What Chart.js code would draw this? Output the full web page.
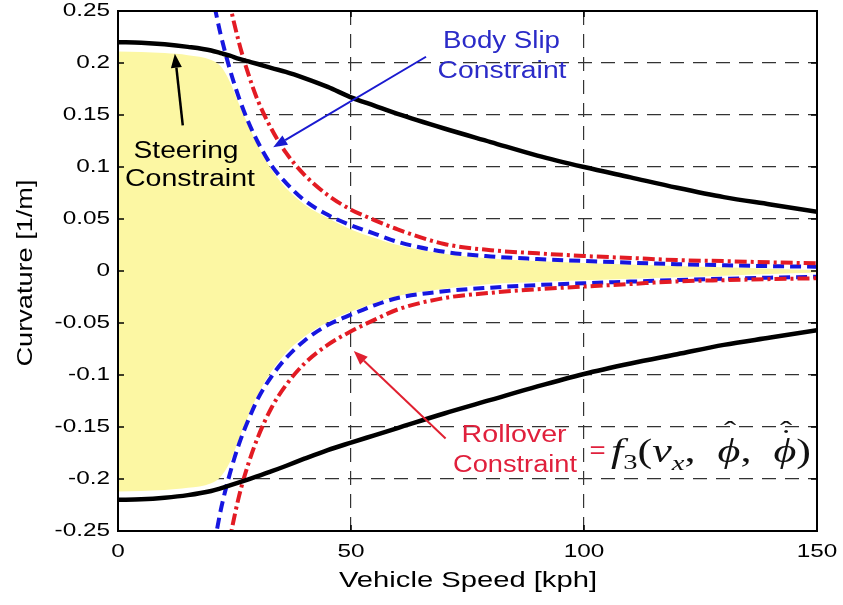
<!DOCTYPE html>
<html>
<head>
<meta charset="utf-8">
<script src="https://cdn.jsdelivr.net/npm/chart.js@4/dist/chart.umd.min.js"></script>
<style>
  html, body { margin: 0; padding: 0; background: #fff; }
  #wrap { width: 843px; height: 605px; }
</style>
</head>
<body>
<div id="wrap"><canvas id="curvChart" width="843" height="605"></canvas></div>
<script>
// vehicle speed [kph]
const speeds = [0, 5, 10, 15, 20, 22, 24, 26, 28, 30, 33, 36, 40, 45, 50, 55, 60, 70, 80, 90, 100, 110, 120, 130, 140, 150];

// steering constraint (black solid)
const steerUpper = [0.220, 0.2195, 0.218, 0.2155, 0.212, 0.2095, 0.207, 0.204, 0.2015, 0.199, 0.195, 0.1915, 0.1855, 0.177, 0.167, 0.159, 0.151, 0.137, 0.124, 0.111, 0.100, 0.090, 0.080, 0.071, 0.064, 0.057];
const steerLower = [-0.220, -0.2195, -0.218, -0.2155, -0.2115, -0.209, -0.2062, -0.2033, -0.2003, -0.1972, -0.1925, -0.1875, -0.1805, -0.1722, -0.165, -0.158, -0.151, -0.137, -0.124, -0.111, -0.099, -0.089, -0.080, -0.071, -0.064, -0.057];

// body slip constraint (blue dashed)
const slipUpper = [null, null, null, null, 0.27, 0.228, 0.194, 0.166, 0.143, 0.124, 0.101, 0.085, 0.068, 0.054, 0.044, 0.036, 0.028, 0.0185, 0.014, 0.0115, 0.0096, 0.008, 0.0066, 0.0055, 0.0047, 0.0041];
const slipLower = [null, null, null, null, -0.28, -0.231, -0.195, -0.166, -0.143, -0.123, -0.101, -0.084, -0.067, -0.052, -0.042, -0.033, -0.026, -0.0195, -0.016, -0.0135, -0.0118, -0.0102, -0.0087, -0.0075, -0.0064, -0.0055];

// rollover constraint (red dash-dot)
const rollUpper = [null, null, null, null, null, 0.306, 0.257, 0.219, 0.189, 0.164, 0.136, 0.114, 0.0925, 0.073, 0.059, 0.049, 0.040, 0.026, 0.020, 0.017, 0.0144, 0.0125, 0.0105, 0.0095, 0.0083, 0.0074];
const rollLower = [null, null, null, null, null, -0.31, -0.258, -0.216, -0.185, -0.160, -0.131, -0.110, -0.089, -0.071, -0.058, -0.047, -0.037, -0.026, -0.021, -0.0175, -0.015, -0.0125, -0.010, -0.0088, -0.0078, -0.007];

// feasible region (yellow)
const safeUpper = [0.211, 0.2105, 0.2095, 0.2075, 0.203, 0.197, 0.182, 0.160, 0.140, 0.121, 0.097, 0.080, 0.064, 0.051, 0.040, 0.032, 0.025, 0.0165, 0.012, 0.0095, 0.0078, 0.0062, 0.0048, 0.0035, 0.0022, 0.001];
const safeLower = [-0.212, -0.2115, -0.2105, -0.2085, -0.204, -0.198, -0.184, -0.161, -0.139, -0.119, -0.096, -0.079, -0.063, -0.049, -0.039, -0.031, -0.024, -0.017, -0.0125, -0.0105, -0.009, -0.0075, -0.006, -0.0045, -0.003, -0.0015];

// ticks
const xTicks = [0, 50, 100, 150];
const xTickLabels = ['0', '50', '100', '150'];
const yTicks = [0.25, 0.2, 0.15, 0.1, 0.05, 0, -0.05, -0.1, -0.15, -0.2, -0.25];
const yTickLabels = ['0.25', '0.2', '0.15', '0.1', '0.05', '0', '-0.05', '-0.1', '-0.15', '-0.2', '-0.25'];

const BLUE = '#1616e0';
const RED = '#e31b23';
const SANS = '"Liberation Sans", Arial, sans-serif';
const SERIF = '"Liberation Serif", "DejaVu Serif", serif';

// labels placed in data coordinates
const notes = [
    { text: 'Steering', x: 14.6, y: 0.1144, color: '#000', w: 105 },
    { text: 'Constraint', x: 15.45, y: 0.0875, color: '#000', w: 130 },
    { text: 'Body Slip', x: 82.3, y: 0.2205, color: '#2b2bc8', w: 117 },
    { text: 'Constraint', x: 82.4, y: 0.1913, color: '#2b2bc8', w: 129 },
    { text: 'Rollover', x: 85.0, y: -0.1587, color: '#e0203c', w: 105 },
    { text: 'Constraint', x: 85.2, y: -0.1875, color: '#e0203c', w: 124 }
];
const arrows = [
    { from: [13.9, 0.140], to: [12.2, 0.209], color: '#000', width: 2.5 },
    { from: [66.1, 0.206], to: [33.3, 0.119], color: '#1a1ad0', width: 2 },
    { from: [70.3, -0.161], to: [50.6, -0.077], color: '#e02030', width: 2 }
];

function pts(arr) {
    return speeds.map((v, i) => ({ x: v, y: arr[i] }));
}

function stretchText(ctx, text, x, y, font, color, opts) {
    opts = opts || {};
    ctx.save();
    ctx.font = font;
    ctx.fillStyle = color;
    const w = ctx.measureText(text).width;
    const sx = opts.w ? opts.w / w : (opts.sx || 1);
    ctx.translate(x, y);
    if (opts.rot) ctx.rotate(opts.rot);
    ctx.scale(sx, 1);
    ctx.textAlign = opts.align || 'center';
    ctx.textBaseline = opts.base || 'middle';
    ctx.fillText(text, 0, 0);
    ctx.restore();
}

function drawArrow(ctx, x1, y1, x2, y2, color, width) {
    const ang = Math.atan2(y2 - y1, x2 - x1);
    const hl = 14, hw = 5.5;
    const bx = x2 - hl * Math.cos(ang), by = y2 - hl * Math.sin(ang);
    ctx.save();
    ctx.strokeStyle = color;
    ctx.fillStyle = color;
    ctx.lineWidth = width;
    ctx.beginPath();
    ctx.moveTo(x1, y1);
    ctx.lineTo(bx, by);
    ctx.stroke();
    ctx.beginPath();
    ctx.moveTo(x2, y2);
    ctx.lineTo(bx + hw * Math.sin(ang), by - hw * Math.cos(ang));
    ctx.lineTo(bx - hw * Math.sin(ang), by + hw * Math.cos(ang));
    ctx.closePath();
    ctx.fill();
    ctx.restore();
}

const decorPlugin = {
    id: 'decor',
    afterDatasetsDraw(chart) {
        const { ctx, chartArea: a, scales: { x, y } } = chart;
        // box + inner ticks like matlab
        ctx.save();
        ctx.strokeStyle = '#000';
        ctx.lineWidth = 2;
        ctx.strokeRect(a.left, a.top, a.right - a.left, a.bottom - a.top);
        ctx.lineWidth = 1.5;
        ctx.beginPath();
        yTicks.forEach(v => {
            const py = y.getPixelForValue(v);
            ctx.moveTo(a.left, py); ctx.lineTo(a.left + 6, py);
            ctx.moveTo(a.right, py); ctx.lineTo(a.right - 6, py);
        });
        xTicks.forEach(v => {
            const px = x.getPixelForValue(v);
            ctx.moveTo(px, a.bottom); ctx.lineTo(px, a.bottom - 6);
            ctx.moveTo(px, a.top); ctx.lineTo(px, a.top + 6);
        });
        ctx.stroke();
        ctx.restore();
    },
    afterDraw(chart) {
        const { ctx, scales: { x, y } } = chart;
        const SX = 1.28;

        // tick labels
        yTicks.forEach((v, i) => {
            stretchText(ctx, yTickLabels[i], 110, y.getPixelForValue(v), '19px ' + SANS, '#000', { sx: SX, align: 'right' });
        });
        xTicks.forEach((v, i) => {
            stretchText(ctx, xTickLabels[i], x.getPixelForValue(v), 552, '19px ' + SANS, '#000', { sx: SX });
        });

        // axis titles
        stretchText(ctx, 'Vehicle Speed [kph]', 468, 581, '22px ' + SANS, '#000', { w: 258 });
        stretchText(ctx, 'Curvature [1/m]', 26, 273, '22px ' + SANS, '#000', { w: 187, rot: -Math.PI / 2 });

        // annotations
        arrows.forEach(ar => {
            drawArrow(ctx, x.getPixelForValue(ar.from[0]), y.getPixelForValue(ar.from[1]),
                x.getPixelForValue(ar.to[0]), y.getPixelForValue(ar.to[1]), ar.color, ar.width);
        });
        notes.forEach(n => {
            stretchText(ctx, n.text, x.getPixelForValue(n.x), y.getPixelForValue(n.y), '23px ' + SANS, n.color, { w: n.w });
        });

        // = f3(vx, phi_hat, phidot_hat)
        stretchText(ctx, '=', x.getPixelForValue(102.9), y.getPixelForValue(-0.1735), '23px ' + SANS, '#e0203c', { sx: 1.2 });
        const parts = [
            { t: 'f', f: 'italic 34px ' + SERIF },
            { t: '3', f: '22px ' + SERIF, dy: 7 },
            { t: '(', f: '34px ' + SERIF },
            { t: 'v', f: 'italic 34px ' + SERIF },
            { t: 'x', f: 'italic 22px ' + SERIF, dy: 8 },
            { t: ',  ', f: '34px ' + SERIF },
            { t: '\u03D5', f: 'italic 34px ' + SERIF, hat: true },
            { t: ',  ', f: '34px ' + SERIF },
            { t: '\u03D5', f: 'italic 34px ' + SERIF, hat: true, dot: true },
            { t: ')', f: '34px ' + SERIF }
        ];
        ctx.save();
        let total = 0;
        parts.forEach(p => { ctx.font = p.f; p.w = ctx.measureText(p.t).width; total += p.w; });
        const x0 = x.getPixelForValue(105.8);
        const base = y.getPixelForValue(-0.1837);
        ctx.translate(x0, base);
        ctx.scale(200 / total, 1);
        ctx.fillStyle = '#111';
        ctx.textBaseline = 'alphabetic';
        let cx = 0;
        parts.forEach(p => {
            ctx.font = p.f;
            ctx.textAlign = 'left';
            ctx.fillText(p.t, cx, p.dy || 0);
            if (p.hat) {
                ctx.font = '28px ' + SERIF;
                ctx.textAlign = 'center';
                ctx.fillText('\u02C6', cx + p.w * 0.55, -22);
            }
            if (p.dot) {
                ctx.font = '28px ' + SERIF;
                ctx.textAlign = 'center';
                ctx.fillText('\u02D9', cx + p.w * 0.55, -14);
            }
            cx += p.w;
        });
        ctx.restore();
    }
};

const lineDs = (label, arr, color, width, dash, order) => ({
    label: label,
    data: pts(arr),
    borderColor: color,
    borderWidth: width,
    borderDash: dash,
    borderCapStyle: 'butt',
    pointRadius: 0,
    fill: false,
    cubicInterpolationMode: 'monotone',
    clip: 0,
    order: order
});

const ctx = document.getElementById('curvChart').getContext('2d');
const curvChart = new Chart(ctx, {
    type: 'line',
    data: {
        datasets: [
            lineDs('Steering Constraint', steerUpper, '#000', 4.5, [], 1),
            lineDs('Steering Constraint (neg)', steerLower, '#000', 4.5, [], 1),
            lineDs('Rollover Constraint', rollUpper, RED, 4, [12, 4, 3, 4], 2),
            lineDs('Rollover Constraint (neg)', rollLower, RED, 4, [12, 4, 3, 4], 2),
            lineDs('Body Slip Constraint', slipUpper, BLUE, 4, [11, 6], 3),
            lineDs('Body Slip Constraint (neg)', slipLower, BLUE, 4, [11, 6], 3),
            {
                label: 'safe',
                data: pts(safeUpper),
                borderWidth: 0,
                pointRadius: 0,
                backgroundColor: '#fcf7a3',
                fill: '+1',
                cubicInterpolationMode: 'monotone',
                clip: 0,
                order: 10
            },
            {
                label: 'safe (neg)',
                data: pts(safeLower),
                borderWidth: 0,
                pointRadius: 0,
                fill: false,
                cubicInterpolationMode: 'monotone',
                clip: 0,
                order: 11
            }
        ]
    },
    options: {
        responsive: false,
        animation: false,
        devicePixelRatio: 1,
        layout: { padding: { top: 11, right: 26, left: 0, bottom: 0 } },
        plugins: {
            legend: { display: false },
            tooltip: { enabled: false }
        },
        scales: {
            x: {
                type: 'linear',
                min: 0,
                max: 150,
                ticks: { stepSize: 50, display: false },
                grid: { color: '#333', lineWidth: 1.2, drawTicks: false },
                border: { display: false, dash: [14, 9] },
                afterFit: s => { s.height = 74; }
            },
            y: {
                min: -0.25,
                max: 0.25,
                ticks: { stepSize: 0.05, display: false },
                grid: { color: '#333', lineWidth: 1.2, drawTicks: false },
                border: { display: false, dash: [14, 9] },
                afterFit: s => { s.width = 118; }
            }
        }
    },
    plugins: [decorPlugin]
});
</script>
</body>
</html>
